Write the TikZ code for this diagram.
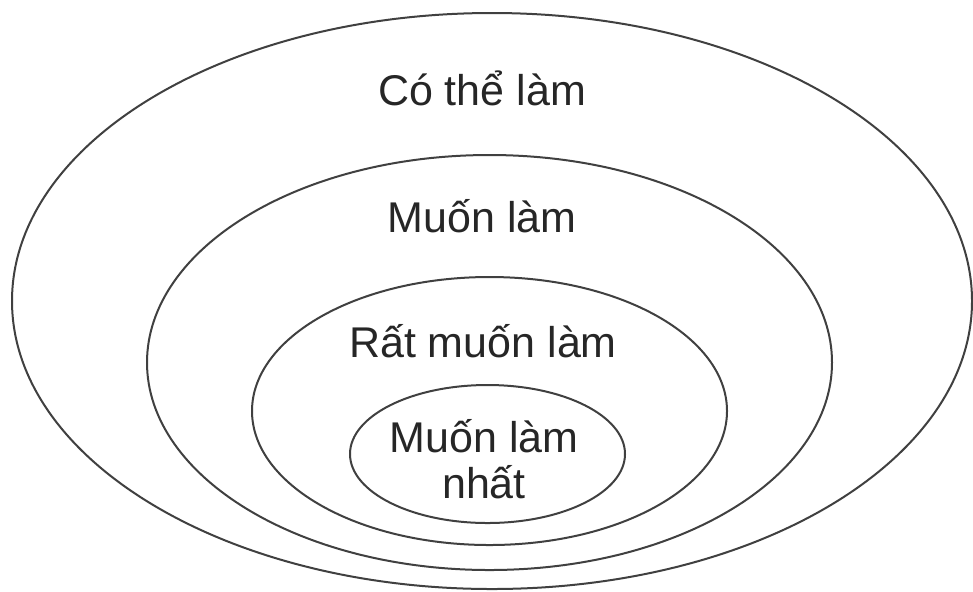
\documentclass[tikz,border=0pt]{standalone}
\usepackage{fontspec}
\setmainfont{Liberation Sans}
\usepackage{tikz}
\usetikzlibrary{positioning}

\tikzset{
  ring/.style={draw=black!75, line width=1pt},
  lbl/.style={anchor=base, inner sep=0pt, font=\fontsize{21.5}{23}\selectfont, text=black!85}
}

\begin{document}
\begin{tikzpicture}[x=0.5pt, y=-0.5pt]
  \useasboundingbox (0,0) rectangle (973,591);

  % Tam cac vong
  \coordinate (c1) at (492,301);
  \coordinate (c2) at (489.5,362.5);
  \coordinate (c3) at (489.5,411);
  \coordinate (c4) at (487.5,454);

  % Cac vong long nhau
  \draw[ring] (c1) ellipse [x radius=240pt, y radius=144pt];
  \draw[ring] (c2) ellipse [x radius=171.25pt, y radius=103.75pt];
  \draw[ring] (c3) ellipse [x radius=118.75pt, y radius=67pt];
  \draw[ring] (c4) ellipse [x radius=68.75pt, y radius=34.5pt];

  % Nhan
  \node[lbl] (cothe) at (482,105) {Có thể làm};
  \node[lbl] (muon) at (482,232) {Muốn làm};
  \node[lbl] (ratmuon) at (483,357) {Rất muốn làm};
  \node[lbl] (nhat1) at (484,452) {Muốn làm};
  \node[lbl] (nhat2) at (484,498) {nhất};
\end{tikzpicture}
\end{document}
